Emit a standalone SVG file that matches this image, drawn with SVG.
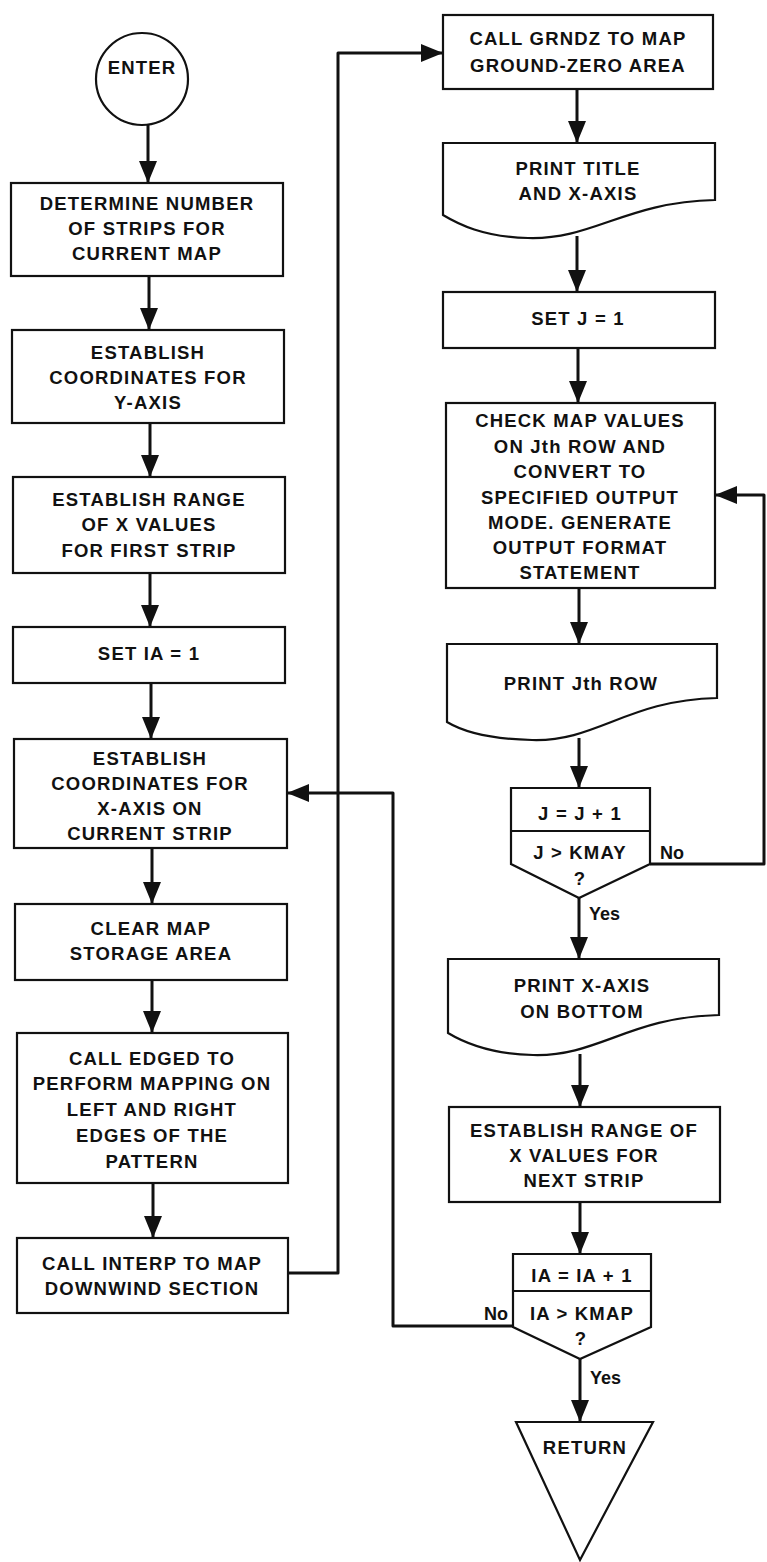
<svg xmlns="http://www.w3.org/2000/svg" width="767" height="1562" viewBox="0 0 767 1562">
  <defs>
    <style>
      .shape { fill: #fff; stroke: #111; stroke-width: 2.2; stroke-linejoin: miter; }
      .div { fill: none; stroke: #111; stroke-width: 2; }
      .wire { fill: none; stroke: #111; stroke-width: 3; stroke-linejoin: round; }
      .arrow { marker-end: url(#head); }
      text { font-family: "Liberation Sans", Arial, Helvetica, sans-serif; font-weight: bold; font-size: 18.5px; letter-spacing: 1.2px; fill: #111; text-anchor: middle; }
      text.lbl { letter-spacing: 0; font-size: 18px; text-anchor: start; }
      text.lbl.end { text-anchor: end; }
    </style>
    <marker id="head" viewBox="0 0 22 18" refX="22" refY="9" markerWidth="22" markerHeight="18" markerUnits="userSpaceOnUse" orient="auto">
      <path d="M0,0 L22,9 L0,18 Z" fill="#111"/>
    </marker>
  </defs>
  <rect width="767" height="1562" fill="#fff"/>

  <!-- connectors -->
  <g id="connectors">
    <line class="wire arrow" x1="148" y1="123" x2="148" y2="183"/>
    <line class="wire arrow" x1="149" y1="276" x2="149" y2="330"/>
    <line class="wire arrow" x1="150" y1="423" x2="150" y2="477"/>
    <line class="wire arrow" x1="150" y1="573" x2="150" y2="627"/>
    <line class="wire arrow" x1="151" y1="683" x2="151" y2="739"/>
    <line class="wire arrow" x1="152" y1="848" x2="152" y2="904"/>
    <line class="wire arrow" x1="152" y1="980" x2="152" y2="1033"/>
    <line class="wire arrow" x1="153" y1="1183" x2="153" y2="1238"/>
    <polyline class="wire arrow" points="288,1273 338,1273 338,53 443,53"/>

    <line class="wire arrow" x1="577" y1="89" x2="577" y2="143"/>
    <line class="wire arrow" x1="577" y1="236" x2="577" y2="292"/>
    <line class="wire arrow" x1="578" y1="348" x2="578" y2="403"/>
    <line class="wire arrow" x1="579" y1="588" x2="579" y2="644"/>
    <line class="wire arrow" x1="579" y1="738" x2="579" y2="788"/>
    <line class="wire arrow" x1="579" y1="898" x2="579" y2="959"/>
    <polyline class="wire arrow" points="650,864 764,864 764,495 715,495"/>
    <line class="wire arrow" x1="580" y1="1054" x2="580" y2="1107"/>
    <line class="wire arrow" x1="580" y1="1202" x2="580" y2="1254"/>
    <polyline class="wire arrow" points="513,1326 393,1326 393,793 287,793"/>
    <line class="wire arrow" x1="580" y1="1359" x2="580" y2="1422"/>

    <text class="lbl" x="660" y="858.5">No</text>
    <text class="lbl" x="589" y="919.5">Yes</text>
    <text class="lbl end" x="508" y="1319.5">No</text>
    <text class="lbl" x="590" y="1383.5">Yes</text>
  </g>

  <!-- left column -->
  <g id="enter">
    <circle class="shape" cx="142" cy="79" r="46"/>
    <text x="142" y="73.5">ENTER</text>
  </g>
  <g id="strip-count">
    <rect class="shape" x="11" y="183" width="272" height="93"/>
    <text x="147" y="209.5">DETERMINE NUMBER</text>
    <text x="147" y="234.5">OF STRIPS FOR</text>
    <text x="147" y="259.5">CURRENT MAP</text>
  </g>
  <g id="y-axis">
    <rect class="shape" x="12" y="330" width="272" height="93"/>
    <text x="148" y="358.5">ESTABLISH</text>
    <text x="148" y="383.5">COORDINATES FOR</text>
    <text x="148" y="408.5">Y-AXIS</text>
  </g>
  <g id="first-range">
    <rect class="shape" x="13" y="477" width="272" height="96"/>
    <text x="149" y="505.5">ESTABLISH RANGE</text>
    <text x="149" y="530.5">OF X VALUES</text>
    <text x="149" y="556.5">FOR FIRST STRIP</text>
  </g>
  <g id="set-ia">
    <rect class="shape" x="13" y="627" width="272" height="56"/>
    <text x="149" y="659.5">SET IA = 1</text>
  </g>
  <g id="x-axis">
    <rect class="shape" x="14" y="739" width="273" height="109"/>
    <text x="150" y="764.5">ESTABLISH</text>
    <text x="150" y="789.5">COORDINATES FOR</text>
    <text x="150" y="814.5">X-AXIS ON</text>
    <text x="150" y="839.5">CURRENT STRIP</text>
  </g>
  <g id="clear-map">
    <rect class="shape" x="15" y="904" width="272" height="76"/>
    <text x="151" y="934.5">CLEAR MAP</text>
    <text x="151" y="959.5">STORAGE AREA</text>
  </g>
  <g id="edged">
    <rect class="shape" x="17" y="1033" width="271" height="150"/>
    <text x="152" y="1064.5">CALL EDGED TO</text>
    <text x="152" y="1089.5">PERFORM MAPPING ON</text>
    <text x="152" y="1115.5">LEFT AND RIGHT</text>
    <text x="152" y="1141.5">EDGES OF THE</text>
    <text x="152" y="1167.5">PATTERN</text>
  </g>
  <g id="interp">
    <rect class="shape" x="17" y="1238" width="271" height="75"/>
    <text x="152" y="1269.5">CALL INTERP TO MAP</text>
    <text x="152" y="1294.5">DOWNWIND SECTION</text>
  </g>

  <!-- right column -->
  <g id="grndz">
    <rect class="shape" x="443" y="15" width="270" height="74"/>
    <text x="578" y="44.5">CALL GRNDZ TO MAP</text>
    <text x="578" y="71.5">GROUND-ZERO AREA</text>
  </g>
  <g id="print-title">
    <path class="shape" d="M443,143 H715 V200 C625,202 593,240 528,238 C483,237 458,224 443,215 Z"/>
    <text x="578" y="174.5">PRINT TITLE</text>
    <text x="578" y="199.5">AND X-AXIS</text>
  </g>
  <g id="set-j">
    <rect class="shape" x="443" y="292" width="272" height="56"/>
    <text x="578" y="324.5">SET J = 1</text>
  </g>
  <g id="check-row">
    <rect class="shape" x="446" y="403" width="269" height="185"/>
    <text x="580" y="426.5">CHECK MAP VALUES</text>
    <text x="580" y="452.5">ON Jth ROW AND</text>
    <text x="580" y="477.5">CONVERT TO</text>
    <text x="580" y="503.5">SPECIFIED OUTPUT</text>
    <text x="580" y="528.5">MODE. GENERATE</text>
    <text x="580" y="553.5">OUTPUT FORMAT</text>
    <text x="580" y="578.5">STATEMENT</text>
  </g>
  <g id="print-row">
    <path class="shape" d="M447,644 H717 V698 C627,700 597,742 532,740 C487,739 462,731 447,722 Z"/>
    <text x="581" y="689.5">PRINT Jth ROW</text>
  </g>
  <g id="row-test">
    <path class="shape" d="M511,788 H650 V864 L579,898 L511,864 Z"/>
    <line class="div" x1="511" y1="831" x2="650" y2="831"/>
    <text x="580" y="819.5">J = J + 1</text>
    <text x="580" y="858.5">J &gt; KMAY</text>
    <text x="580" y="884.5">?</text>
  </g>
  <g id="print-bottom">
    <path class="shape" d="M448,959 H719 V1015 C629,1017 598,1057 533,1055 C488,1054 463,1042 448,1033 Z"/>
    <text x="582" y="991.5">PRINT X-AXIS</text>
    <text x="582" y="1017.5">ON BOTTOM</text>
  </g>
  <g id="next-range">
    <rect class="shape" x="449" y="1107" width="271" height="95"/>
    <text x="584" y="1136.5">ESTABLISH RANGE OF</text>
    <text x="584" y="1161.5">X VALUES FOR</text>
    <text x="584" y="1186.5">NEXT STRIP</text>
  </g>
  <g id="strip-test">
    <path class="shape" d="M513,1254 H651 V1327 L580,1359 L513,1327 Z"/>
    <line class="div" x1="513" y1="1291" x2="651" y2="1291"/>
    <text x="582" y="1281.5">IA = IA + 1</text>
    <text x="582" y="1319.5">IA &gt; KMAP</text>
    <text x="581" y="1344.5">?</text>
  </g>
  <g id="return">
    <path class="shape" d="M516,1422 H653 L580,1560 Z"/>
    <text x="585" y="1453.5">RETURN</text>
  </g>
</svg>
